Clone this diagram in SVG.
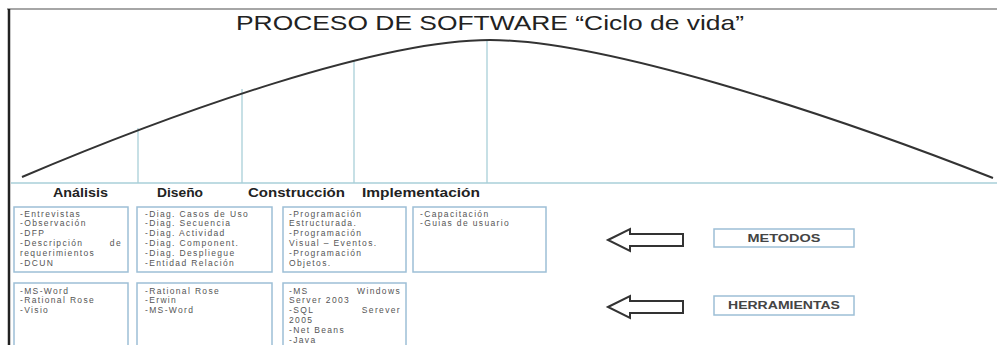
<svg xmlns="http://www.w3.org/2000/svg" width="997" height="345" viewBox="0 0 997 345">
<style>
.box{fill:#fff;stroke:#9dbfd6;stroke-width:1.5}
.t{font-family:"Liberation Sans",Arial,sans-serif;font-size:8.5px;fill:#555;letter-spacing:1.35px}
.ph{font-family:"Liberation Sans",Arial,sans-serif;font-size:12px;font-weight:bold;fill:#222}
.lbl{font-family:"Liberation Sans",Arial,sans-serif;font-size:10px;font-weight:bold;fill:#444;text-anchor:middle}
.guide{stroke:#a9cfd8;stroke-width:1.3;fill:none}
.arrow{fill:#fff;stroke:#333;stroke-width:2;stroke-linejoin:miter}
</style>
<rect width="997" height="345" fill="#fff"/>
<g id="frame">
<line x1="7" y1="9" x2="997" y2="9" stroke="#888" stroke-width="1.5"/>
<line x1="9" y1="9" x2="9" y2="345" stroke="#222" stroke-width="2.5"/>
</g>
<text x="236" y="30" font-family="Liberation Sans,Arial,sans-serif" font-size="21" fill="#222" textLength="508" lengthAdjust="spacingAndGlyphs">PROCESO DE SOFTWARE “Ciclo de vida”</text>
<g id="curve">
<line class="guide" x1="11" y1="183" x2="997" y2="183"/>
<line class="guide" x1="138" y1="128" x2="138" y2="183"/>
<line class="guide" x1="242" y1="89" x2="242" y2="183"/>
<line class="guide" x1="354" y1="60" x2="354" y2="183"/>
<line class="guide" x1="487" y1="40" x2="487" y2="183"/>
<path d="M22,177 C180,110 380,40 490,40 C600,40 820,110 993,178" fill="none" stroke="#333" stroke-width="2"/>
</g>
<g id="phases">
<text class="ph" x="53" y="197" textLength="55" lengthAdjust="spacingAndGlyphs">Análisis</text>
<text class="ph" x="157" y="197" textLength="46" lengthAdjust="spacingAndGlyphs">Diseño</text>
<text class="ph" x="248" y="197" textLength="97" lengthAdjust="spacingAndGlyphs">Construcción</text>
<text class="ph" x="362" y="197" textLength="118" lengthAdjust="spacingAndGlyphs">Implementación</text>
</g>
<g id="analisis-metodos">
<rect class="box" x="14" y="207" width="114" height="65"/>
<text class="t" x="20" y="216.5">-Entrevistas</text>
<text class="t" x="20" y="226.3">-Observación</text>
<text class="t" x="20" y="236.1">-DFP</text>
<text class="t" y="245.9"><tspan x="20">-Descripción</tspan><tspan x="122" text-anchor="end">de</tspan></text>
<text class="t" x="20" y="255.7">requerimientos</text>
<text class="t" x="20" y="265.5">-DCUN</text>
</g>
<g id="diseno-metodos">
<rect class="box" x="137" y="207" width="135" height="65"/>
<text class="t" x="145" y="216.5">-Diag. Casos de Uso</text>
<text class="t" x="145" y="226.3">-Diag. Secuencia</text>
<text class="t" x="145" y="236.1">-Diag. Actividad</text>
<text class="t" x="145" y="245.9">-Diag. Component.</text>
<text class="t" x="145" y="255.7">-Diag. Despliegue</text>
<text class="t" x="145" y="265.5">-Entidad Relación</text>
</g>
<g id="construccion-metodos">
<rect class="box" x="283" y="207" width="123" height="65"/>
<text class="t" x="289" y="216.5">-Programación</text>
<text class="t" x="289" y="226.3">Estructurada.</text>
<text class="t" x="289" y="236.1">-Programación</text>
<text class="t" x="289" y="245.9">Visual – Eventos.</text>
<text class="t" x="289" y="255.7">-Programación</text>
<text class="t" x="289" y="265.5">Objetos.</text>
</g>
<g id="implementacion-metodos">
<rect class="box" x="413" y="207" width="133" height="65"/>
<text class="t" x="420" y="216.5">-Capacitación</text>
<text class="t" x="420" y="226.3">-Guias de usuario</text>
</g>
<g id="analisis-herramientas">
<rect class="box" x="14" y="283" width="114" height="70"/>
<text class="t" x="20" y="293.5">-MS-Word</text>
<text class="t" x="20" y="303.3">-Rational Rose</text>
<text class="t" x="20" y="313.1">-Visio</text>
</g>
<g id="diseno-herramientas">
<rect class="box" x="137" y="283" width="135" height="70"/>
<text class="t" x="145" y="293.5">-Rational Rose</text>
<text class="t" x="145" y="303.3">-Erwin</text>
<text class="t" x="145" y="313.1">-MS-Word</text>
</g>
<g id="construccion-herramientas">
<rect class="box" x="283" y="283" width="123" height="70"/>
<text class="t" y="293.5"><tspan x="289">-MS</tspan><tspan x="401" text-anchor="end">Windows</tspan></text>
<text class="t" x="289" y="303.3">Server 2003</text>
<text class="t" y="313.1"><tspan x="289">-SQL</tspan><tspan x="401" text-anchor="end">Serever</tspan></text>
<text class="t" x="289" y="322.9">2005</text>
<text class="t" x="289" y="332.7">-Net Beans</text>
<text class="t" x="289" y="342.5">-Java</text>
</g>
<g id="metodos">
<rect class="box" x="714" y="229" width="140" height="18"/>
<text class="lbl" x="784" y="242" textLength="73" lengthAdjust="spacingAndGlyphs">METODOS</text>
</g>
<g id="herramientas">
<rect class="box" x="714" y="296" width="140" height="19"/>
<text class="lbl" x="784" y="309" textLength="112" lengthAdjust="spacingAndGlyphs">HERRAMIENTAS</text>
</g>
<g id="connectors">
<path class="arrow" d="M608,240 L630,229 L630,234 L683,234 L683,246 L630,246 L630,251 Z"/>
<path class="arrow" d="M608,307 L630,296 L630,301 L683,301 L683,313 L630,313 L630,318 Z"/>
</g>
</svg>
